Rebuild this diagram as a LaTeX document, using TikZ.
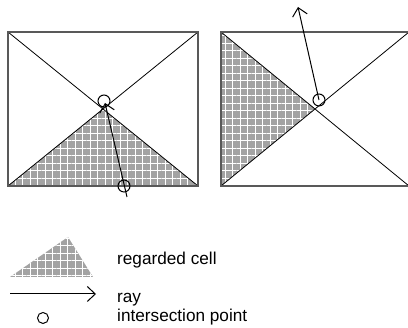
\documentclass[tikz,border=0pt]{standalone}
\usepackage{fontspec}
\setmainfont{Liberation Sans}
\usetikzlibrary{arrows.meta,patterns.meta}
\tikzset{
  x=1pt, y=1pt,
  cellborder/.style={draw=black!65, line width=1.3pt},
  diag/.style={draw=black, line width=0.8pt},
  regarded/.style={fill=black!36},
  gridv/.style={pattern={Lines[distance=7.5pt,angle=90,line width=0.7pt]}, pattern color=white},
  gridh/.style={pattern={Lines[distance=7.5pt,angle=0,line width=0.7pt]}, pattern color=white},
  rayline/.style={draw=black, line width=1pt, -{Straight Barb[length=8pt,width=15pt,line width=1pt]}},
  hit/.style={circle, draw=black, line width=1pt, minimum size=12pt, inner sep=0pt},
  legendtext/.style={anchor=base west, inner sep=0pt, font=\fontsize{17.2}{20}\selectfont}
}
\begin{document}
\begin{tikzpicture}
\useasboundingbox (0,0) rectangle (408,328);

% ---- left cell ----
\coordinate (LA) at (8,296);
\coordinate (LB) at (198,296);
\coordinate (LC) at (198,142);
\coordinate (LD) at (8,142);
\coordinate (LM) at (103,219);
\fill[regarded] (LD) -- (LC) -- (LM) -- cycle;
\fill[gridv] (LD) -- (LC) -- (LM) -- cycle;
\fill[gridh] (LD) -- (LC) -- (LM) -- cycle;
\draw[diag] (LA) -- (LC) (LD) -- (LB);
\draw[cellborder] (LA) -- (LB) -- (LC) -- (LD) -- cycle;

\node[hit] (l1) at (124,142) {};
\node[hit] (l2) at (104,227) {};
\coordinate (ls) at (127,131);
\coordinate (lt) at (105,225);
\draw[rayline] (ls) -- (lt);

% ---- right cell ----
\coordinate (RA) at (221,296);
\coordinate (RB) at (409,296);
\coordinate (RC) at (409,142);
\coordinate (RD) at (221,142);
\coordinate (RM) at (315,219);
\fill[regarded] (RA) -- (RD) -- (RM) -- cycle;
\fill[gridv] (RA) -- (RD) -- (RM) -- cycle;
\fill[gridh] (RA) -- (RD) -- (RM) -- cycle;
\draw[diag] (RA) -- (RC) (RD) -- (RB);
\draw[cellborder] (RA) -- (RB) -- (RC) -- (RD) -- cycle;

\node[hit] (r1) at (319,228) {};
\coordinate (rt) at (298,321);
\draw[rayline] (r1.center) -- (rt);

% ---- legend ----
\coordinate (TA) at (10,51);
\coordinate (TB) at (93,51);
\coordinate (TC) at (68,91);
\fill[regarded] (TA) -- (TB) -- (TC) -- cycle;
\fill[gridv] (TA) -- (TB) -- (TC) -- cycle;
\fill[gridh] (TA) -- (TB) -- (TC) -- cycle;
\node[legendtext] (t1) at (117,63) {regarded cell};

\coordinate (as) at (10,34);
\coordinate (ae) at (96,34);
\draw[rayline] (as) -- (ae);
\node[legendtext] (t2) at (117,25) {ray};

\node[hit, minimum size=11pt] (c3) at (43,10) {};
\node[legendtext] (t3) at (117,6) {intersection point};
\end{tikzpicture}
\end{document}
